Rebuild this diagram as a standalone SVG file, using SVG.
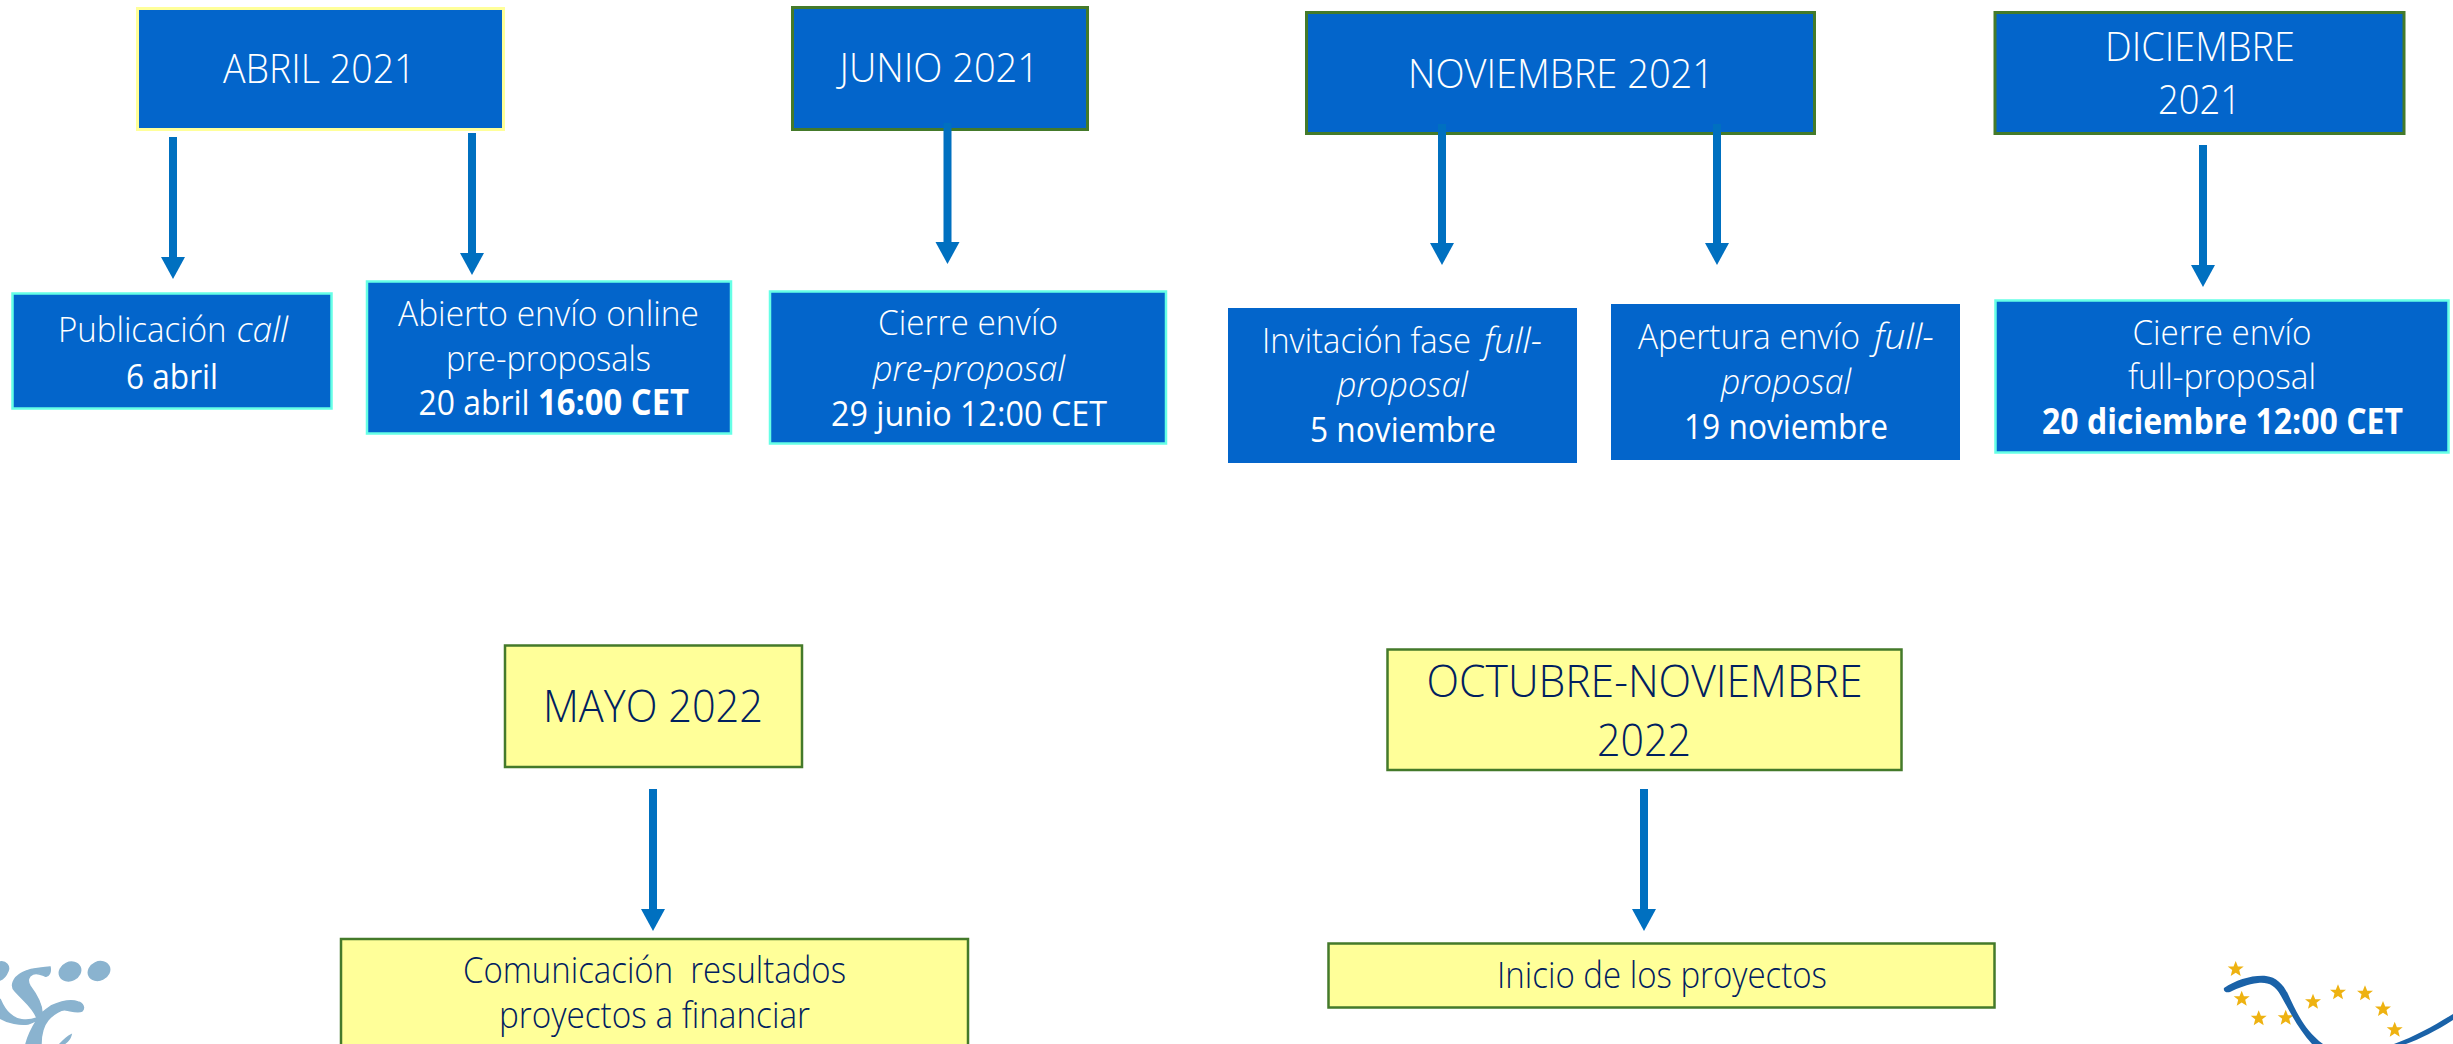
<svg xmlns="http://www.w3.org/2000/svg" width="2453" height="1044" viewBox="0 0 2453 1044">
<style>
text{font-family:"Open Sans","Noto Sans",sans-serif;font-weight:300;fill:#fff}
.h{font-size:41px}.hl{font-size:45px}.b{font-size:35px}.m{font-size:36px}
.y text{fill:#002060}
.reg{font-weight:400}.bold{font-weight:700}.it{font-style:italic}
.blue{fill:#0365cb}.yel{fill:#ffff99;stroke:#447a2a;stroke-width:2.500}
.sy{stroke:#ffff99;stroke-width:3}.sg{stroke:#447a2a;stroke-width:3}.sc{stroke:#66ffe6;stroke-width:2.500}
.star{fill:#eeb211}
.ln{stroke:#0070c0;stroke-width:8;fill:none}
.hd{fill:#0070c0}
</style>
<defs>
<polygon id="ah" points="-12,-22 12,-22 0,0"/>
<polygon id="st" points="0,-8 2.200,-2.500 8,-2.500 3.500,1 5,7 0,3.800 -5,7 -3.500,1 -8,-2.500 -2.200,-2.500"/>
</defs>
<g id="abril"><rect class="blue sy" x="137.500" y="8.500" width="366" height="121"/><text class="h" x="223" y="83" textLength="192.500" lengthAdjust="spacingAndGlyphs">ABRIL 2021</text></g>
<g id="junio"><rect class="blue sg" x="792.500" y="7.500" width="295" height="122"/><text class="h" x="839.500" y="82" textLength="199.500" lengthAdjust="spacingAndGlyphs">JUNIO 2021</text></g>
<g id="noviembre"><rect class="blue sg" x="1306.500" y="12.500" width="508" height="121"/><text class="h" x="1408" y="87.500" textLength="306" lengthAdjust="spacingAndGlyphs">NOVIEMBRE 2021</text></g>
<g id="diciembre"><rect class="blue sg" x="1995" y="12.500" width="409" height="121"/><text class="h" x="2105" y="61" textLength="190" lengthAdjust="spacingAndGlyphs">DICIEMBRE</text><text class="h" x="2158" y="113.500" textLength="83" lengthAdjust="spacingAndGlyphs">2021</text></g>
<g id="publicacion"><rect class="blue sc" x="12.500" y="293.500" width="319" height="115"/><text class="b" x="58" y="342" textLength="168.500" lengthAdjust="spacingAndGlyphs">Publicación</text><text class="b it" x="236.500" y="342" textLength="51.500" lengthAdjust="spacingAndGlyphs">call</text><text class="b reg" x="126" y="388.500" textLength="92" lengthAdjust="spacingAndGlyphs">6 abril</text></g>
<g id="abierto"><rect class="blue sc" x="367" y="281.500" width="364" height="152"/><text class="b" x="398" y="325.500" textLength="301" lengthAdjust="spacingAndGlyphs">Abierto envío online</text><text class="b" x="446" y="370.500" textLength="205" lengthAdjust="spacingAndGlyphs">pre-proposals</text><text class="b reg" x="418.500" y="414.500" textLength="111" lengthAdjust="spacingAndGlyphs">20 abril</text><text class="b bold" x="538" y="414.500" textLength="151" lengthAdjust="spacingAndGlyphs">16:00 CET</text></g>
<g id="cierre-pre"><rect class="blue sc" x="770" y="291.500" width="396" height="152"/><text class="b" x="878" y="334.500" textLength="180" lengthAdjust="spacingAndGlyphs">Cierre envío</text><text class="b it" x="873" y="380.500" textLength="192" lengthAdjust="spacingAndGlyphs">pre-proposal</text><text class="b reg" x="831" y="425.500" textLength="276" lengthAdjust="spacingAndGlyphs">29 junio 12:00 CET</text></g>
<g id="invitacion"><rect class="blue" x="1228" y="308" width="349" height="155"/><text class="b" x="1262" y="352.500" textLength="209" lengthAdjust="spacingAndGlyphs">Invitación fase</text><text class="b it" x="1484" y="352.500" textLength="58" lengthAdjust="spacingAndGlyphs">full-</text><text class="b it" x="1337" y="396.500" textLength="131" lengthAdjust="spacingAndGlyphs">proposal</text><text class="b reg" x="1310" y="442" textLength="186" lengthAdjust="spacingAndGlyphs">5 noviembre</text></g>
<g id="apertura"><rect class="blue" x="1611" y="304" width="349" height="156"/><text class="b" x="1638" y="348.500" textLength="222" lengthAdjust="spacingAndGlyphs">Apertura envío</text><text class="b it" x="1874" y="348.500" textLength="60" lengthAdjust="spacingAndGlyphs">full-</text><text class="b it" x="1721" y="393.500" textLength="130" lengthAdjust="spacingAndGlyphs">proposal</text><text class="b reg" x="1684" y="438.500" textLength="204" lengthAdjust="spacingAndGlyphs">19 noviembre</text></g>
<g id="cierre-full"><rect class="blue sc" x="1995.500" y="300.500" width="453" height="152"/><text class="b" x="2132.500" y="344.500" textLength="179" lengthAdjust="spacingAndGlyphs">Cierre envío</text><text class="b" x="2128" y="388.500" textLength="188" lengthAdjust="spacingAndGlyphs">full-proposal</text><text class="b bold" x="2042" y="433.500" textLength="361" lengthAdjust="spacingAndGlyphs">20 diciembre 12:00 CET</text></g>
<g class="y">
<g id="mayo"><rect class="yel" x="505" y="645.500" width="297" height="121.500"/><text class="hl" x="543" y="722" textLength="220" lengthAdjust="spacingAndGlyphs">MAYO 2022</text></g>
<g id="comunicacion"><rect class="yel" x="341" y="939" width="627" height="110"/><text class="m" x="463" y="983" textLength="383" lengthAdjust="spacingAndGlyphs" xml:space="preserve">Comunicación  resultados</text><text class="m" x="499" y="1027.500" textLength="311" lengthAdjust="spacingAndGlyphs">proyectos a financiar</text></g>
<g id="octubre"><rect class="yel" x="1387.500" y="649.500" width="514" height="120.500"/><text class="hl" x="1426.500" y="697" textLength="436" lengthAdjust="spacingAndGlyphs">OCTUBRE-NOVIEMBRE</text><text class="hl" x="1597" y="755.500" textLength="94" lengthAdjust="spacingAndGlyphs">2022</text></g>
<g id="inicio"><rect class="yel" x="1328.500" y="943.500" width="666" height="64"/><text class="m" x="1497" y="988" textLength="330" lengthAdjust="spacingAndGlyphs">Inicio de los proyectos</text></g>
</g>
<g id="connectors">
<path class="ln" d="M173 137V260M472 133V255M947.500 123V244M1442 124V245M1717 124V245M2203 145V267M653 789V910M1644 789V910"/>
<g class="hd">
<use href="#ah" x="173" y="279"/><use href="#ah" x="472" y="275"/><use href="#ah" x="947.500" y="264"/><use href="#ah" x="1442" y="265"/><use href="#ah" x="1717" y="265"/><use href="#ah" x="2203" y="287"/><use href="#ah" x="653" y="931"/><use href="#ah" x="1644" y="931"/>
</g>
</g>
<g id="logo-csic" fill="#8ab3cf" stroke="#8ab3cf" stroke-width="1.500">
<ellipse cx="70" cy="971.500" rx="11" ry="9" transform="rotate(-25 70 971.500)"/>
<ellipse cx="99" cy="971" rx="11" ry="9" transform="rotate(-25 99 971)"/>
<path d="M0 962C6 961 10 966 8 971C6 976 3 979 0 980Z"/>
<path d="M50 967C40 968 30 968 22 973C13 978 10 986 15 991C24 1001 33 1007 37 1018C26 1022 16 1020 10 1014C6 1011 3 1006 0 999V1018C8 1023 20 1025 28 1024C31 1023 34 1022 37 1020C32 1028 28 1036 26 1044H41C41 1035 43 1026 48 1020C54 1013 62 1009 66 1010C72 1011 78 1013 82 1011C85 1008 83 1003 78 1002C70 999 60 1002 51 1006C48 1008 45 1010 42 1013C42 1003 36 994 30 986C27 981 28 976 33 974C38 972 42 975 45 976C49 977 51 972 50 967Z"/>
<path d="M60 1044C63 1041 67 1037 71 1035C70 1039 67 1042 64 1044Z"/>
</g>
<g id="logo-eu">
<g class="star">
<use href="#st" x="2235.700" y="969"/><use href="#st" x="2241.700" y="998.700"/><use href="#st" x="2258.700" y="1018.300"/><use href="#st" x="2285.700" y="1017.700"/><use href="#st" x="2313" y="1001.700"/><use href="#st" x="2338" y="992.300"/><use href="#st" x="2365" y="993.300"/><use href="#st" x="2383" y="1009"/><use href="#st" x="2394.700" y="1029.700"/>
</g>
<path fill="#1a62a8" d="M2224 988C2236 980 2252 975 2266 976C2276 977 2283 984 2288 994C2296 1011 2304 1030 2323 1044H2312C2299 1030 2290 1012 2281 996C2275 985 2268 982 2258 983C2248 984 2238 988 2230 992C2226 993 2223 991 2224 988Z"/>
<path fill="#1a62a8" d="M2394 1044C2416 1036 2435 1025 2453 1014V1020C2436 1031 2420 1039 2406 1044Z"/>
</g>
</svg>
